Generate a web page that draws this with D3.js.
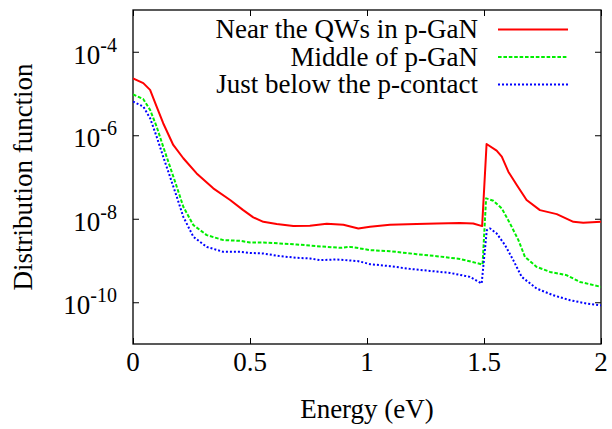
<!DOCTYPE html>
<html><head><meta charset="utf-8">
<script src="https://cdn.jsdelivr.net/npm/d3@7"></script>
<style>
body{margin:0;background:#fff}
svg text{font-family:'Liberation Serif','Times New Roman',Times,'DejaVu Serif',serif;fill:#000}
</style>
</head><body>
<svg id="chart" width="612" height="429" font-family="Liberation Serif, Times New Roman, Times, serif"></svg>
<script>
// ---- data ----
const seriesNames = ["Near the QWs in p-GaN", "Middle of p-GaN", "Just below the p-contact"];
const seriesColors = ["#ff0000", "#00ee00", "#0000ff"];

const energyNear = [0, 0.044, 0.073, 0.101, 0.129, 0.172, 0.215, 0.272, 0.343, 0.415, 0.471, 0.514, 0.557, 0.614, 0.685, 0.756, 0.828, 0.899, 0.963, 1.013, 1.098, 1.212, 1.298, 1.397, 1.454, 1.492, 1.511, 1.554, 1.576, 1.604, 1.640, 1.682, 1.739, 1.811, 1.882, 1.924, 2.0];
const valuesNear = [2.3e-5, 1.77e-5, 1.22e-5, 4.86e-6, 1.94e-6, 5.85e-7, 2.81e-7, 1.22e-7, 5.35e-8, 2.81e-8, 1.61e-8, 1.08e-8, 8.45e-9, 7.45e-9, 6.67e-9, 6.78e-9, 7.57e-9, 7.16e-9, 5.86e-9, 6.41e-9, 7.16e-9, 7.45e-9, 7.73e-9, 7.87e-9, 7.73e-9, 6.67e-9, 6.18e-7, 4.28e-7, 3.07e-7, 1.34e-7, 6.41e-8, 2.81e-8, 1.61e-8, 1.29e-8, 8.45e-9, 8.0e-9, 8.45e-9];

const energyMiddle = [0, 0.044, 0.073, 0.101, 0.129, 0.158, 0.187, 0.215, 0.258, 0.315, 0.386, 0.457, 0.5, 0.557, 0.628, 0.7, 0.785, 0.885, 0.927, 0.963, 1.013, 1.098, 1.212, 1.298, 1.397, 1.494, 1.509, 1.540, 1.576, 1.611, 1.647, 1.675, 1.725, 1.782, 1.853, 1.910, 2.0];
const valuesMiddle = [9.5e-6, 7.31e-6, 4.05e-6, 1.61e-6, 5.33e-7, 1.77e-7, 5.85e-8, 1.94e-8, 7.05e-9, 4.06e-9, 3.08e-9, 2.96e-9, 2.71e-9, 2.71e-9, 2.56e-9, 2.42e-9, 2.21e-9, 2.01e-9, 2.12e-9, 1.98e-9, 1.77e-9, 1.67e-9, 1.42e-9, 1.27e-9, 1.09e-9, 8.02e-10, 3.08e-8, 2.70e-8, 1.77e-8, 7.73e-9, 3.08e-9, 1.22e-9, 7.03e-10, 5.33e-10, 4.45e-10, 3.07e-10, 2.33e-10];

const energyContact = [0, 0.044, 0.073, 0.101, 0.129, 0.158, 0.187, 0.215, 0.258, 0.315, 0.386, 0.457, 0.5, 0.557, 0.628, 0.7, 0.756, 0.799, 0.871, 0.963, 1.013, 1.098, 1.184, 1.269, 1.355, 1.440, 1.490, 1.512, 1.526, 1.554, 1.590, 1.625, 1.661, 1.725, 1.796, 1.868, 1.939, 2.0];
const valuesContact = [6.4e-6, 4.86e-6, 2.56e-6, 9.27e-7, 3.07e-7, 1.02e-7, 3.37e-8, 1.11e-8, 3.69e-9, 2.12e-9, 1.61e-9, 1.61e-9, 1.52e-9, 1.47e-9, 1.27e-9, 1.16e-9, 1.12e-9, 1.02e-9, 1.06e-9, 9.64e-10, 8.17e-10, 7.31e-10, 6.30e-10, 5.64e-10, 5.05e-10, 4.05e-10, 2.81e-10, 5.33e-9, 5.86e-9, 4.45e-9, 2.33e-9, 1.02e-9, 4.05e-10, 2.13e-10, 1.47e-10, 1.12e-10, 9.31e-11, 8.47e-11];

const xTicks = [0, 0.5, 1, 1.5, 2];
const xTickLabels = ["0", "0.5", "1", "1.5", "2"];
const yTicks = [1e-4, 1e-6, 1e-8, 1e-10];
const yTickExponents = ["-4", "-6", "-8", "-10"];
const xTitle = "Energy (eV)";
const yTitle = "Distribution function";

// ---- layout ----
const FONT = "Liberation Serif, Times New Roman, Times, serif";
const L = 133, R = 601, T = 10, B = 344;
const svg = d3.select("#chart");
const x = d3.scaleLinear().domain([0, 2]).range([L, R]);
const y = d3.scaleLog().domain([1e-11, 1e-3]).range([B, T]);

svg.append("defs").append("clipPath").attr("id", "clip")
  .append("rect").attr("x", L).attr("y", T).attr("width", R - L).attr("height", B - T);

const tickLen = 6;
function styleAxis(g) {
  g.attr("font-family", FONT);
  g.selectAll("path.domain").remove();
  g.selectAll("line").attr("stroke", "#000").attr("stroke-width", 1);
}
svg.append("g").attr("transform", `translate(0,${B})`)
  .call(d3.axisBottom(x).tickValues(xTicks).tickSize(-tickLen).tickFormat("")).call(styleAxis);
svg.append("g").attr("transform", `translate(0,${T})`)
  .call(d3.axisTop(x).tickValues(xTicks).tickSize(-tickLen).tickFormat("")).call(styleAxis);
svg.append("g").attr("transform", `translate(${L},0)`)
  .call(d3.axisLeft(y).tickValues(yTicks).tickSize(-tickLen).tickFormat("")).call(styleAxis);
svg.append("g").attr("transform", `translate(${R},0)`)
  .call(d3.axisRight(y).tickValues(yTicks).tickSize(-tickLen).tickFormat("")).call(styleAxis);

svg.append("rect").attr("x", L).attr("y", T).attr("width", R - L).attr("height", B - T)
  .attr("fill", "none").attr("stroke", "#000").attr("stroke-width", 1.3);

// x tick labels
svg.append("g").selectAll("text").data(xTicks).join("text")
  .attr("font-family", FONT)
  .attr("x", d => x(d)).attr("y", 371)
  .attr("text-anchor", "middle").attr("font-size", 27)
  .text((d, i) => xTickLabels[i]);

// y tick labels
const yl = svg.append("g").selectAll("text").data(yTicks).join("text")
  .attr("font-family", FONT)
  .attr("x", 117).attr("y", d => y(d) + 12)
  .attr("text-anchor", "end").attr("font-size", 27);
yl.append("tspan").text("10");
yl.append("tspan").attr("font-size", 20).attr("dy", -12).text((d, i) => yTickExponents[i]);

// titles
svg.append("text").attr("font-family", FONT).attr("x", (L + R) / 2).attr("y", 418)
  .attr("text-anchor", "middle").attr("font-size", 27).text(xTitle);
svg.append("text").attr("font-family", FONT).attr("transform", `translate(32,${(T + B) / 2}) rotate(-90)`)
  .attr("text-anchor", "middle").attr("font-size", 27).text(yTitle);

// series
const series = [
  {e: energyNear, v: valuesNear, dash: null},
  {e: energyMiddle, v: valuesMiddle, dash: "3.6,1.8"},
  {e: energyContact, v: valuesContact, dash: "2,2"}
];
const line = d3.line().x(d => x(d[0])).y(d => y(d[1]));
const plot = svg.append("g").attr("clip-path", "url(#clip)");
series.forEach((s, i) => {
  plot.append("path")
    .datum(s.e.map((e, j) => [e, s.v[j]]))
    .attr("d", line).attr("fill", "none")
    .attr("stroke", seriesColors[i]).attr("stroke-width", 2)
    .attr("stroke-linejoin", "round")
    .attr("stroke-dasharray", s.dash);
});

// legend
const legY = [29.5, 57, 84.5];
const leg = svg.append("g");
seriesNames.forEach((n, i) => {
  leg.append("text").attr("font-family", FONT).attr("x", 478).attr("y", legY[i] + 8.5)
    .attr("text-anchor", "end").attr("font-size", 27).text(n);
  leg.append("line").attr("x1", 498).attr("x2", 568).attr("y1", legY[i]).attr("y2", legY[i])
    .attr("stroke", seriesColors[i]).attr("stroke-width", 2)
    .attr("stroke-dasharray", series[i].dash);
});
</script>
</body></html>
